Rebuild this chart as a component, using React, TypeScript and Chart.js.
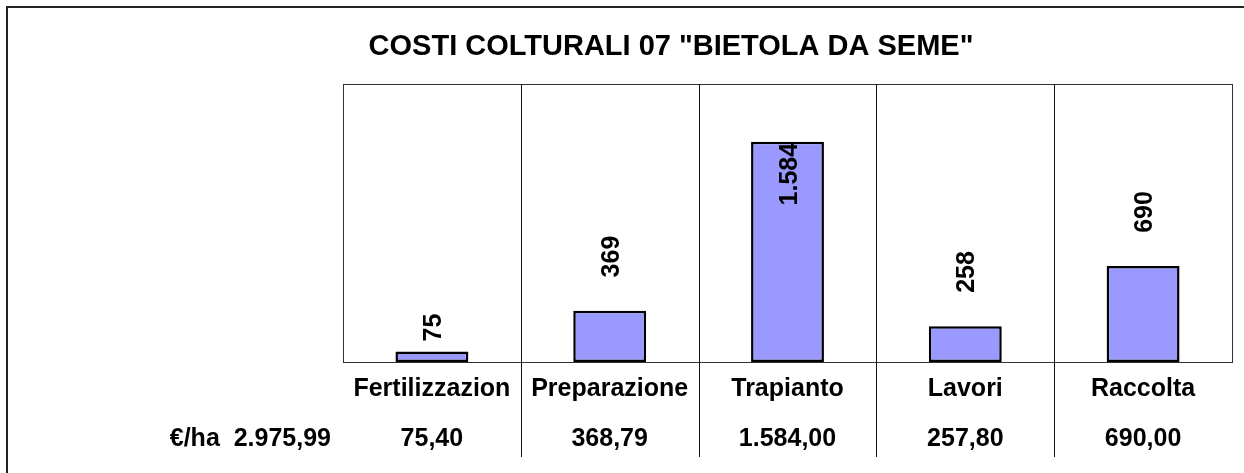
import React, { useEffect, useRef } from "react";
import { Chart, registerables } from "chart.js";

Chart.register(...registerables);

const TITLE = 'COSTI COLTURALI 07 "BIETOLA DA SEME"';
const CATEGORIES = ["Fertilizzazion", "Preparazione", "Trapianto", "Lavori", "Raccolta"];
const VALUES = [75.4, 368.79, 1584.0, 257.8, 690.0];
const UNIT_LABEL = "€/ha";
const Y_MAX = 2000;

const FONT = '"Liberation Sans", Arial, sans-serif';

function formatIt(n: number, decimals: number): string {
  const fixed = n.toFixed(decimals);
  const [intPart, decPart] = fixed.split(".");
  const withSep = intPart.replace(/\B(?=(\d{3})+(?!\d))/g, ".");
  return decPart ? withSep + "," + decPart : withSep;
}

const overlayPlugin = {
  id: "overlay",
  beforeDatasetsDraw(chart: any) {
    const { ctx, chartArea } = chart;
    const xs = chart.scales.x;
    ctx.save();
    // plot border
    ctx.strokeStyle = "#333";
    ctx.lineWidth = 1;
    ctx.strokeRect(chartArea.left + 0.5, chartArea.top + 0.5, chartArea.right - chartArea.left, chartArea.bottom - chartArea.top);
    // separators between categories, extending into the table rows
    ctx.strokeStyle = "#111";
    for (let i = 0; i < CATEGORIES.length - 1; i++) {
      const x = Math.round((xs.getPixelForValue(i) + xs.getPixelForValue(i + 1)) / 2) + 0.5;
      ctx.beginPath();
      ctx.moveTo(x, chartArea.top);
      ctx.lineTo(x, 457);
      ctx.stroke();
    }
    ctx.restore();
  },
  afterDraw(chart: any) {
    const { ctx, chartArea, width, height } = chart;
    const xs = chart.scales.x;
    const meta = chart.getDatasetMeta(0);
    ctx.save();
    // outer frame
    ctx.strokeStyle = "#222";
    ctx.lineWidth = 2;
    ctx.beginPath();
    ctx.moveTo(7, height);
    ctx.lineTo(7, 7);
    ctx.lineTo(width, 7);
    ctx.stroke();

    // title
    ctx.fillStyle = "#000";
    ctx.font = `bold 29px ${FONT}`;
    ctx.textAlign = "center";
    ctx.textBaseline = "alphabetic";
    ctx.fillText(TITLE, 671, 55);

    // category labels and values row
    ctx.font = `bold 25px ${FONT}`;
    CATEGORIES.forEach((c, i) => {
      const x = xs.getPixelForValue(i);
      ctx.textAlign = "center";
      ctx.fillText(c, x, 396);
      ctx.fillText(formatIt(VALUES[i], 2), x, 446);
    });
    const total = VALUES.reduce((a, b) => a + b, 0);
    ctx.textAlign = "right";
    ctx.fillText(`${UNIT_LABEL}  ${formatIt(total, 2)}`, 331, 446);

    // rotated bar labels
    ctx.font = `bold 25px ${FONT}`;
    meta.data.forEach((bar: any, i: number) => {
      const label = formatIt(Math.round(VALUES[i]), 0);
      const w = ctx.measureText(label).width;
      const cx = bar.x + 0.36 * 25;
      const top = bar.y;
      const gap = Math.max(10, 10 + 1.7 * (w - 28));
      ctx.save();
      if (top - gap - w < chartArea.top) {
        ctx.translate(cx, top + 1);
        ctx.rotate(-Math.PI / 2);
        ctx.textAlign = "right";
      } else {
        ctx.translate(cx, top - gap);
        ctx.rotate(-Math.PI / 2);
        ctx.textAlign = "left";
      }
      ctx.textBaseline = "alphabetic";
      ctx.fillText(label, 0, 0);
      ctx.restore();
    });
    ctx.restore();
  },
};

export default function App() {
  const ref = useRef<HTMLCanvasElement | null>(null);
  useEffect(() => {
    if (!ref.current) return;
    const chart = new Chart(ref.current, {
      type: "bar",
      data: {
        labels: CATEGORIES,
        datasets: [
          {
            data: VALUES,
            backgroundColor: "#9999FF",
            borderColor: "#000000",
            borderWidth: 2.5,
            borderSkipped: false,
            categoryPercentage: 1,
            barPercentage: 0.41,
          },
        ],
      },
      options: {
        responsive: false,
        animation: false,
        layout: { padding: { left: 343, right: 12, top: 84, bottom: 111 } },
        scales: {
          x: { display: false, offset: true, grid: { display: false } },
          y: { display: false, min: 0, max: Y_MAX },
        },
        plugins: { legend: { display: false }, tooltip: { enabled: false }, title: { display: false } },
      },
      plugins: [overlayPlugin],
    });
    return () => chart.destroy();
  }, []);
  return (
    <div style={{ position: "fixed", left: 0, top: 0, width: 1244, height: 473, background: "#fff" }}>
      <canvas ref={ref} width={1244} height={473} />
    </div>
  );
}
